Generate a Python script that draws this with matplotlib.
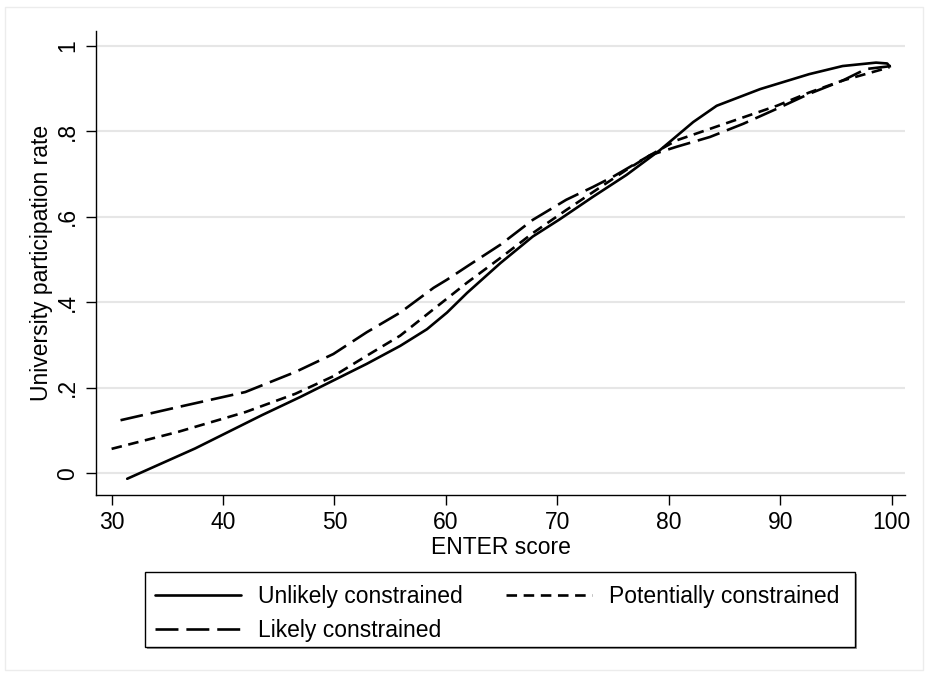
import matplotlib
matplotlib.use("Agg")
import matplotlib.pyplot as plt
from matplotlib.patches import Rectangle

plt.rcParams['font.family'] = ['Liberation Sans', 'DejaVu Sans']

# Data
x_unlikely = [31.4, 37.5, 43.5, 46.9, 49.9, 52.9, 55.9, 58.3, 60.1, 61.9, 64.9, 67.8, 70.2,
              73.2, 76.2, 79.2, 82.2, 84.3, 88.2, 92.6, 95.6, 98.6, 99.6, 99.8]
y_unlikely = [-0.013, 0.058, 0.136, 0.178, 0.217, 0.256, 0.298, 0.337, 0.376, 0.422, 0.492, 0.554, 0.594,
              0.647, 0.698, 0.756, 0.822, 0.860, 0.899, 0.934, 0.953, 0.961, 0.959, 0.953]

x_potential = [30.0, 36.0, 42.0, 46.5, 49.9, 52.9, 55.9, 58.9, 61.9, 64.9, 67.8, 70.8, 73.2,
               76.2, 78.3, 80.7, 83.7, 86.7, 89.7, 92.6, 95.6, 99.8]
y_potential = [0.057, 0.097, 0.143, 0.186, 0.227, 0.275, 0.322, 0.384, 0.446, 0.504, 0.562, 0.616, 0.658,
               0.710, 0.744, 0.779, 0.806, 0.833, 0.860, 0.891, 0.919, 0.950]

x_likely = [30.8, 36.0, 42.0, 46.5, 49.9, 52.9, 55.9, 58.9, 60.1, 61.9, 64.9, 67.8, 70.8, 73.2,
            75.0, 78.3, 80.7, 83.7, 86.7, 89.7, 92.6, 95.6, 97.7, 100.0]
y_likely = [0.124, 0.155, 0.190, 0.237, 0.279, 0.330, 0.376, 0.434, 0.453, 0.484, 0.535, 0.593, 0.640, 0.670,
            0.694, 0.744, 0.764, 0.787, 0.818, 0.853, 0.888, 0.919, 0.946, 0.953]

xticks = [30, 40, 50, 60, 70, 80, 90, 100]
yticks = [0, 0.2, 0.4, 0.6, 0.8, 1.0]
yticklabels = ['0', '.2', '.4', '.6', '.8', '1']

W, H = 928, 675
FS = 16.5

fig = plt.figure(figsize=(W / 100, H / 100), dpi=100)
fig.patch.set_facecolor('white')
# faint outer border of graph region
fig.add_artist(Rectangle((5 / W, 1 - 670 / H), 918 / W, 663 / H, transform=fig.transFigure,
                         fill=False, edgecolor='#ececec', lw=1.0))

ax = fig.add_axes([96 / W, 1 - 495 / H, (905 - 96) / W, (495 - 31) / H])
lw = 1.9
l1, = ax.plot(x_unlikely, y_unlikely, color='black', lw=lw, solid_capstyle='round',
              solid_joinstyle='round', label='Unlikely constrained')
l3, = ax.plot(x_potential, y_potential, color='black', lw=lw, dashes=(4, 2.5),
              label='Potentially constrained')
l2, = ax.plot(x_likely, y_likely, color='black', lw=lw, dashes=(8.7, 3.0),
              label='Likely constrained')

ax.set_xlim(28.6, 101.2)
ax.set_ylim(-0.051, 1.035)
ax.set_xticks(xticks)
ax.set_yticks(yticks)
ax.set_yticklabels(yticklabels, rotation=90, va='center')
ax.tick_params(axis='both', direction='out', length=7.2, width=1, labelsize=FS, color='black')
ax.tick_params(axis='y', pad=5)
ax.tick_params(axis='x', pad=4)
for s in ['top', 'right']:
    ax.spines[s].set_visible(False)
for s in ['left', 'bottom']:
    ax.spines[s].set_linewidth(1.0)
ax.grid(axis='y', color='#e6e6e6', lw=1.5)
ax.set_axisbelow(True)

ax.set_xlabel('ENTER score', fontsize=FS, labelpad=2)
ax.set_ylabel('University participation rate', fontsize=FS, labelpad=2)

# legend frame with shadow
bx0, by_top, bx1, by_bot = 145, 572, 855, 647
fig.add_artist(Rectangle(((bx0 + 2) / W, 1 - (by_bot + 2) / H), (bx1 - bx0) / W, (by_bot - by_top) / H,
                         transform=fig.transFigure, facecolor='#9a9a9a', edgecolor='none', zorder=1))
fig.add_artist(Rectangle((bx0 / W, 1 - by_bot / H), (bx1 - bx0) / W, (by_bot - by_top) / H,
                         transform=fig.transFigure, facecolor='white', edgecolor='black', lw=1.0, zorder=2))
leg = fig.legend([l1, l2, l3], ['Unlikely constrained', 'Likely constrained', 'Potentially constrained'],
                 ncol=2, loc='upper left', bbox_to_anchor=(155 / W, 1 - 585 / H),
                 fontsize=FS, frameon=False, handlelength=3.75, handletextpad=0.74,
                 borderaxespad=0, borderpad=0, columnspacing=1.9, labelspacing=0.47)
leg.set_zorder(3)

fig.savefig('out.png', dpi=100)
